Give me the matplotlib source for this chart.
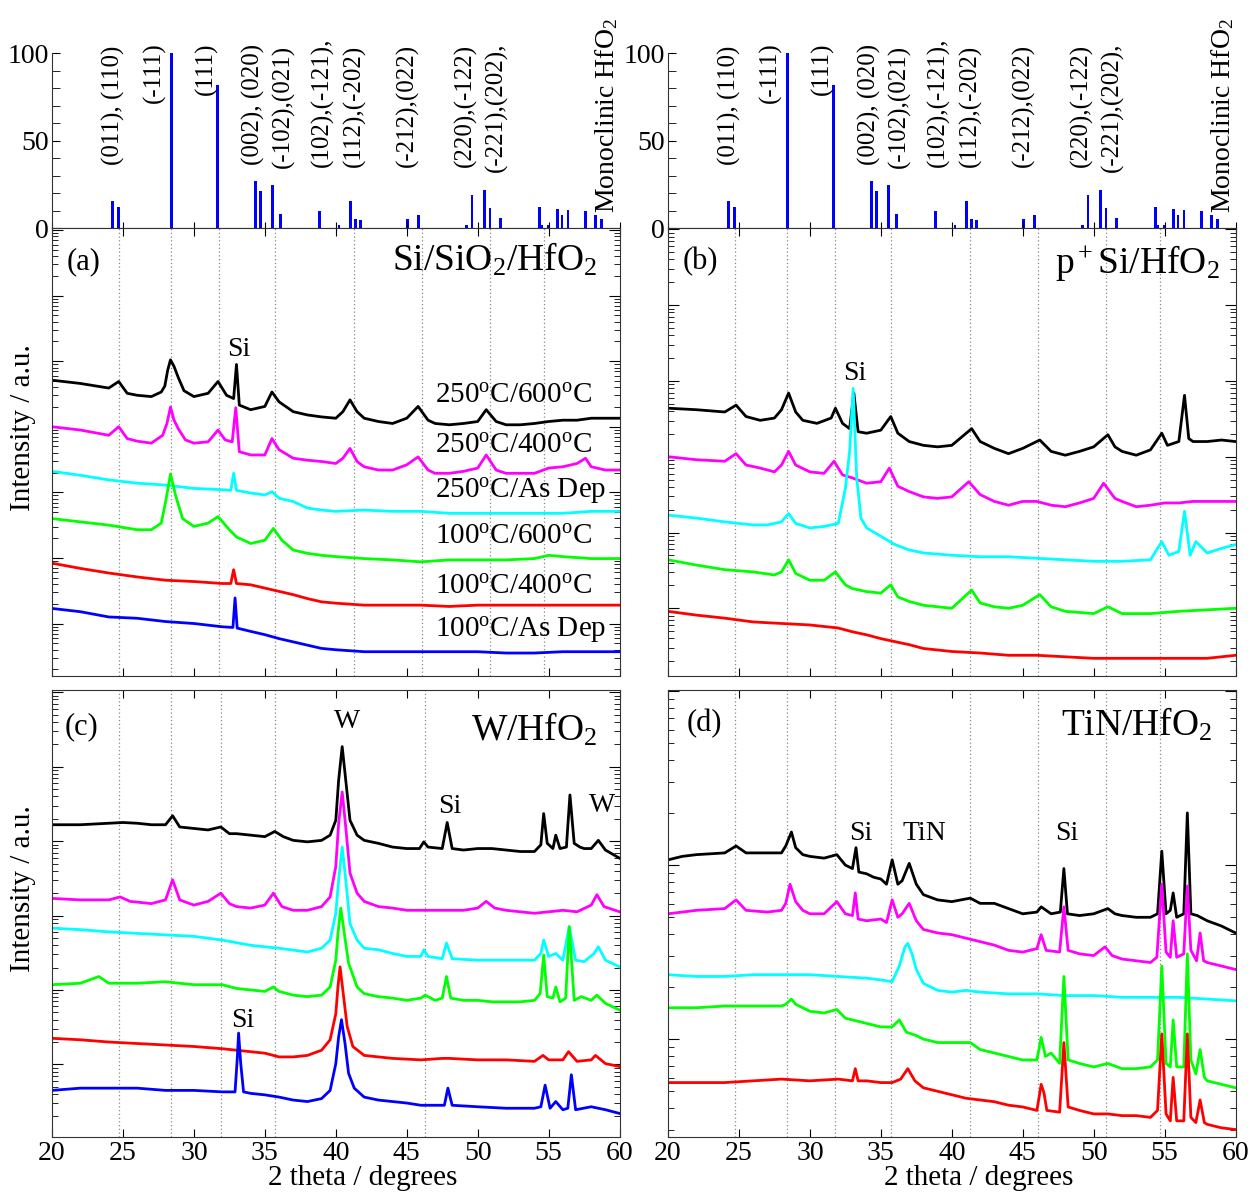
import numpy as np
import matplotlib.pyplot as plt
from matplotlib.ticker import LogLocator, MultipleLocator, NullFormatter

plt.rcParams['font.family'] = 'Liberation Serif'
plt.rcParams['mathtext.fontset'] = 'custom'
plt.rcParams['mathtext.rm'] = 'Liberation Serif'
plt.rcParams['mathtext.it'] = 'Liberation Serif:italic'

# Monoclinic HfO2 reference pattern (relative intensity %)
hfo2_pos = [24.25, 24.67, 28.43, 31.69, 34.34, 34.70, 35.56, 36.13, 38.85, 40.23,
            41.03, 41.38, 41.73, 45.05, 45.80, 49.20, 49.60, 50.49, 50.87, 51.60,
            54.37, 54.53, 55.00, 55.61, 55.94, 56.36, 57.58, 58.33, 58.71]
hfo2_int = [15.6, 12.2, 100, 82, 26.7, 21.3, 24.4, 7.8, 9.7, 1.7,
            15.4, 5.0, 4.4, 5.0, 7.6, 1.9, 18.9, 21.7, 11.2, 5.9,
            12.2, 2.0, 1.7, 10.9, 7.2, 10.3, 9.9, 7.2, 5.1]
hkl_text = ['(011), (110)', '(-111)', '(111)', '(002), (020)', '(-102),(021)',
            '(102),(-121),', '(112),(-202)', '(-212),(022)', '(220),(-122)',
            '(-221),(202),']
hkl_x = [24.32, 27.18, 30.89, 34.18, 36.29, 39.07, 41.34, 45.02, 49.13, 51.31]
hkl_y = [36, 71.4, 76, 36, 34.5, 35, 35, 35, 35, 32]

# dotted guide lines (HfO2 peak positions)
guides = [24.75, 28.4, 31.8, 35.7, 41.3, 46.1, 50.9, 54.7]
guides_c = [24.75, 28.4, 31.9, 35.75, 46.3]

# (a) Si/SiO2/HfO2, log10 intensity
a_250_600 = [(20, 4.71), (22, 4.66), (24, 4.59), (24.7, 4.69), (25.3, 4.51), (26, 4.48),
             (27, 4.46), (27.7, 4.53), (27.95, 4.62), (28.15, 4.86), (28.35, 5.02),
             (28.6, 4.92), (28.9, 4.75), (29.3, 4.55), (30, 4.46), (31, 4.51), (31.7, 4.69),
             (32.3, 4.48), (32.8, 4.43), (33.0, 4.95), (33.2, 4.33), (34, 4.26), (35, 4.31),
             (35.5, 4.53), (36, 4.38), (37, 4.23), (38, 4.18), (39, 4.15), (40, 4.13),
             (40.5, 4.23), (41.0, 4.41), (41.5, 4.23), (42, 4.13), (43, 4.08), (44, 4.05),
             (45, 4.13), (45.8, 4.31), (46.5, 4.10), (47, 4.05), (48, 4.03), (49, 4.05),
             (50, 4.08), (50.6, 4.26), (51.3, 4.08), (52, 4.03), (53, 4.03), (54, 4.05),
             (55, 4.08), (56, 4.10), (57, 4.10), (58, 4.13), (59, 4.13), (60, 4.13)]
a_250_400 = [(20, 4.00), (22, 3.95), (24, 3.87), (24.7, 4.00), (25.3, 3.82), (26, 3.78),
             (27, 3.75), (27.8, 3.87), (28.1, 4.05), (28.35, 4.30), (28.6, 4.10),
             (28.9, 3.97), (29.4, 3.80), (30, 3.75), (31, 3.77), (31.7, 3.95), (32.2, 3.80),
             (32.7, 3.77), (32.95, 4.29), (33.2, 3.62), (34, 3.57), (35, 3.57), (35.5, 3.82),
             (36, 3.65), (37, 3.52), (38, 3.49), (39, 3.47), (40, 3.44), (40.5, 3.52),
             (41.0, 3.67), (41.5, 3.47), (42, 3.39), (43, 3.34), (44, 3.34), (45, 3.42),
             (45.8, 3.54), (46.5, 3.34), (47, 3.29), (48, 3.29), (49, 3.32), (50, 3.37),
             (50.6, 3.57), (51.3, 3.34), (52, 3.29), (53, 3.29), (54, 3.29), (55, 3.37),
             (56, 3.39), (57, 3.44), (57.6, 3.52), (58, 3.39), (59, 3.34), (60, 3.34)]
a_250_dep = [(20, 3.32), (22, 3.26), (24, 3.19), (26, 3.14), (28, 3.11), (30, 3.06),
             (32, 3.04), (32.6, 3.03), (32.8, 3.29), (33.0, 3.03), (34, 2.99), (35, 2.96),
             (35.5, 3.01), (36, 2.91), (37, 2.86), (38, 2.76), (39, 2.73), (40, 2.71),
             (42, 2.73), (44, 2.71), (46, 2.71), (48, 2.68), (50, 2.68), (52, 2.68),
             (54, 2.68), (56, 2.68), (58, 2.71), (60, 2.71)]
a_100_600 = [(20, 2.60), (22, 2.55), (24, 2.50), (26, 2.43), (27, 2.43), (27.7, 2.53),
             (28.0, 2.85), (28.35, 3.28), (28.7, 2.96), (29.2, 2.60), (30, 2.48), (31, 2.53),
             (31.7, 2.63), (32.5, 2.43), (33, 2.32), (34, 2.22), (35, 2.27), (35.6, 2.45),
             (36.2, 2.27), (37, 2.12), (38, 2.07), (39, 2.04), (40, 2.02), (42, 1.99),
             (44, 1.97), (46, 1.94), (48, 1.97), (50, 1.97), (52, 1.97), (54, 1.99),
             (55, 2.04), (56, 2.02), (58, 1.99), (60, 1.99)]
a_100_400 = [(20, 1.92), (22, 1.84), (24, 1.77), (26, 1.71), (28, 1.66), (30, 1.64),
             (32, 1.61), (32.6, 1.61), (32.8, 1.82), (33.0, 1.61), (34, 1.59), (35, 1.54),
             (36, 1.49), (37, 1.44), (38, 1.38), (39, 1.33), (40, 1.31), (42, 1.28),
             (44, 1.28), (46, 1.28), (48, 1.26), (50, 1.28), (52, 1.28), (54, 1.28),
             (56, 1.28), (58, 1.28), (60, 1.28)]
a_100_dep = [(20, 1.23), (22, 1.18), (24, 1.10), (26, 1.08), (28, 1.03), (30, 1.00),
             (32, 0.95), (32.75, 0.94), (32.9, 1.39), (33.05, 0.93), (34, 0.88), (35, 0.83),
             (36, 0.77), (37, 0.72), (38, 0.67), (39, 0.62), (40, 0.60), (42, 0.57),
             (44, 0.57), (46, 0.57), (48, 0.57), (50, 0.57), (52, 0.55), (54, 0.55),
             (56, 0.57), (58, 0.57), (60, 0.57)]

# (b) p+Si/HfO2
b_250_600 = [(20, 3.64), (22, 3.62), (24, 3.59), (24.8, 3.68), (25.5, 3.53), (26.5, 3.48),
             (27.5, 3.51), (28.0, 3.62), (28.5, 3.84), (29.0, 3.59), (29.5, 3.48),
             (30.5, 3.44), (31.5, 3.51), (31.8, 3.64), (32.3, 3.44), (32.8, 3.37),
             (33.1, 3.84), (33.4, 3.33), (34, 3.31), (35, 3.35), (35.7, 3.53), (36.2, 3.31),
             (37, 3.20), (38, 3.15), (39, 3.13), (40, 3.15), (41.4, 3.37), (42, 3.20),
             (43, 3.11), (44, 3.04), (45, 3.11), (46.2, 3.22), (47, 3.07), (48, 3.02),
             (49, 3.07), (50, 3.13), (51.0, 3.29), (51.5, 3.13), (52, 3.07), (53, 3.02),
             (54, 3.09), (54.8, 3.31), (55.2, 3.15), (56.0, 3.20), (56.4, 3.81),
             (56.7, 3.24), (57, 3.20), (58, 3.20), (59, 3.22), (60, 3.20)]
b_250_400 = [(20, 3.00), (22, 2.96), (24, 2.94), (24.8, 3.04), (25.5, 2.89), (26.5, 2.85),
             (27.5, 2.80), (28.0, 2.89), (28.5, 3.07), (29, 2.89), (30, 2.80), (31, 2.78),
             (31.7, 2.94), (32.3, 2.76), (33, 2.72), (34, 2.65), (35, 2.67), (35.6, 2.85),
             (36.2, 2.61), (37, 2.54), (38, 2.47), (39, 2.45), (40, 2.47), (41.2, 2.67),
             (42, 2.50), (43, 2.41), (44, 2.36), (45, 2.41), (46, 2.41), (47, 2.36),
             (48, 2.34), (49, 2.39), (50, 2.45), (50.7, 2.65), (51.5, 2.45), (52, 2.41),
             (53, 2.34), (54, 2.36), (55, 2.39), (56, 2.39), (57, 2.41), (58, 2.41),
             (59, 2.41), (60, 2.41)]
b_250_dep = [(20, 2.23), (22, 2.19), (24, 2.14), (25, 2.12), (26, 2.10), (27, 2.10),
             (28, 2.14), (28.5, 2.25), (29, 2.12), (30, 2.06), (31, 2.08), (32, 2.12),
             (32.5, 2.58), (32.8, 3.07), (33.05, 3.90), (33.3, 2.72), (33.6, 2.19),
             (34, 2.06), (35, 1.95), (36, 1.84), (37, 1.77), (38, 1.73), (40, 1.70),
             (42, 1.68), (44, 1.68), (46, 1.66), (48, 1.64), (50, 1.62), (52, 1.62),
             (54, 1.64), (54.8, 1.88), (55.3, 1.70), (56, 1.75), (56.4, 2.28), (56.8, 1.70),
             (57.2, 1.88), (58, 1.73), (59, 1.79), (60, 1.84)]
b_100_600 = [(20, 1.64), (22, 1.57), (24, 1.51), (26, 1.48), (27.5, 1.44), (28.0, 1.48),
             (28.5, 1.64), (29, 1.46), (30, 1.37), (31, 1.37), (31.8, 1.48), (32.5, 1.31),
             (33, 1.26), (34, 1.22), (35, 1.20), (35.7, 1.31), (36.2, 1.15), (37, 1.09),
             (38, 1.04), (40, 1.00), (41.4, 1.24), (42, 1.07), (43, 1.02), (44, 1.00),
             (45, 1.04), (46.2, 1.18), (47, 1.02), (48, 0.96), (50, 0.93), (51, 1.02),
             (52, 0.93), (54, 0.93), (56, 0.96), (58, 0.98), (60, 1.00)]
b_100_400 = [(20, 0.96), (22, 0.91), (24, 0.87), (26, 0.82), (28, 0.80), (30, 0.78),
             (32, 0.74), (33, 0.69), (34, 0.65), (35, 0.60), (36, 0.56), (37, 0.52),
             (38, 0.47), (40, 0.43), (42, 0.41), (44, 0.38), (46, 0.38), (48, 0.36),
             (50, 0.34), (52, 0.34), (54, 0.34), (56, 0.34), (58, 0.34), (60, 0.38)]

# (c) W/HfO2
c_250_600 = [(20, 4.22), (22, 4.22), (24, 4.24), (25, 4.25), (26, 4.24), (27, 4.22),
             (28, 4.22), (28.5, 4.34), (29, 4.19), (30, 4.17), (31, 4.15), (31.9, 4.19),
             (32.5, 4.10), (33, 4.10), (34, 4.08), (35, 4.06), (35.7, 4.13), (36.3, 4.06),
             (37, 4.01), (38, 3.99), (39, 4.01), (39.6, 4.08), (40.0, 4.28), (40.2, 4.82),
             (40.45, 5.27), (40.7, 4.82), (41.0, 4.28), (41.5, 4.08), (42, 4.01), (43, 3.97),
             (44, 3.92), (45, 3.90), (45.9, 3.90), (46.2, 3.99), (46.5, 3.92), (47.5, 3.90),
             (47.85, 4.25), (48.2, 3.90), (49, 3.88), (50, 3.90), (51, 3.90), (52, 3.88),
             (53, 3.86), (54, 3.86), (54.45, 3.95), (54.65, 4.37), (54.9, 3.97), (55.3, 3.90),
             (55.5, 4.08), (55.8, 3.90), (56.25, 3.92), (56.5, 4.62), (56.8, 3.97),
             (57.2, 3.92), (57.5, 3.90), (58, 3.90), (58.5, 4.01), (59, 3.88), (60, 3.77)]
c_250_400 = [(20, 3.23), (22, 3.21), (24, 3.21), (24.8, 3.25), (25.5, 3.19), (27, 3.16),
             (28, 3.21), (28.5, 3.48), (29, 3.21), (30, 3.14), (31, 3.19), (31.9, 3.30),
             (32.5, 3.16), (33, 3.12), (34, 3.10), (35, 3.14), (35.6, 3.30), (36.2, 3.12),
             (37, 3.07), (38, 3.07), (39, 3.12), (39.6, 3.25), (40.0, 3.66), (40.2, 4.24),
             (40.45, 4.66), (40.7, 4.19), (41.0, 3.57), (41.5, 3.30), (42, 3.19), (43, 3.12),
             (44, 3.10), (45, 3.07), (47, 3.07), (49, 3.07), (50, 3.10), (50.6, 3.19),
             (51.2, 3.10), (52, 3.07), (53, 3.05), (54, 3.03), (55, 3.05), (56, 3.07),
             (57, 3.05), (58, 3.14), (58.4, 3.28), (58.9, 3.12), (60, 3.05)]
c_250_dep = [(20, 2.83), (22, 2.81), (24, 2.78), (26, 2.76), (28, 2.74), (30, 2.72),
             (32, 2.67), (34, 2.60), (36, 2.56), (38, 2.51), (39, 2.56), (39.6, 2.67),
             (40.0, 3.03), (40.2, 3.48), (40.45, 3.92), (40.7, 3.48), (41.0, 2.89),
             (41.5, 2.67), (42, 2.56), (43, 2.54), (44, 2.49), (45, 2.45), (46, 2.45),
             (46.2, 2.54), (46.5, 2.45), (47.5, 2.42), (47.8, 2.63), (48.2, 2.42), (50, 2.40),
             (52, 2.40), (54, 2.40), (54.45, 2.49), (54.65, 2.67), (55, 2.45), (55.5, 2.49),
             (56, 2.40), (56.45, 2.85), (56.9, 2.40), (57.5, 2.38), (58.2, 2.49),
             (58.5, 2.58), (59, 2.40), (60, 2.31)]
c_100_600 = [(20, 2.07), (22, 2.09), (23.3, 2.18), (24, 2.09), (26, 2.09), (28, 2.11),
             (30, 2.07), (32, 2.07), (33, 2.02), (34, 2.00), (35, 1.98), (35.6, 2.04),
             (36, 1.98), (37, 1.93), (38, 1.91), (39, 1.93), (39.6, 2.04), (40.0, 2.40),
             (40.15, 2.76), (40.35, 3.10), (40.6, 2.76), (40.9, 2.36), (41.5, 2.04),
             (42, 1.95), (43, 1.91), (44, 1.89), (45, 1.86), (46, 1.89), (46.3, 1.93),
             (47, 1.86), (47.5, 1.89), (47.8, 2.18), (48.1, 1.89), (49, 1.86), (50, 1.86),
             (51, 1.84), (53, 1.84), (54, 1.86), (54.4, 1.95), (54.65, 2.47), (54.9, 1.91),
             (55.3, 1.89), (55.5, 2.04), (55.8, 1.84), (56.2, 1.89), (56.45, 2.85),
             (56.8, 1.86), (57.3, 1.91), (58, 1.86), (58.4, 1.93), (59, 1.82), (60, 1.73)]
c_100_400 = [(20, 1.35), (22, 1.33), (24, 1.30), (26, 1.28), (28, 1.26), (30, 1.24),
             (32, 1.21), (34, 1.17), (35, 1.15), (36, 1.10), (37, 1.10), (38, 1.12),
             (39, 1.19), (39.6, 1.33), (40.0, 1.68), (40.15, 2.04), (40.3, 2.31),
             (40.55, 1.91), (40.8, 1.51), (41.2, 1.24), (42, 1.12), (43, 1.10), (44, 1.08),
             (46, 1.06), (47.5, 1.08), (48, 1.08), (50, 1.06), (52, 1.06), (54, 1.04),
             (54.6, 1.12), (55, 1.06), (56, 1.06), (56.4, 1.17), (57, 1.04), (58, 1.06),
             (58.3, 1.12), (59, 1.01), (60, 0.97)]
c_100_dep = [(20, 0.65), (22, 0.68), (24, 0.68), (26, 0.68), (28, 0.65), (30, 0.65),
             (32, 0.63), (32.9, 0.63), (33.05, 1.06), (33.15, 1.42), (33.3, 1.01),
             (33.5, 0.63), (34, 0.61), (35, 0.59), (36, 0.56), (37, 0.52), (38, 0.50),
             (39, 0.54), (39.6, 0.65), (40.0, 1.01), (40.2, 1.37), (40.4, 1.60),
             (40.65, 1.28), (40.9, 0.88), (41.3, 0.68), (42, 0.56), (43, 0.52), (44, 0.50),
             (45, 0.48), (46, 0.45), (47.65, 0.45), (47.9, 0.68), (48.2, 0.45), (50, 0.43),
             (52, 0.41), (54, 0.41), (54.45, 0.43), (54.75, 0.72), (55.1, 0.41),
             (55.5, 0.50), (56, 0.39), (56.35, 0.41), (56.6, 0.86), (56.9, 0.39), (58, 0.43),
             (59, 0.39), (60, 0.34)]

# (d) TiN/HfO2
d_250_600 = [(20, 2.03), (21, 2.05), (22, 2.06), (24, 2.07), (24.8, 2.11), (25.5, 2.07),
             (28, 2.07), (28.3, 2.11), (28.7, 2.19), (29, 2.10), (29.5, 2.06), (30, 2.05),
             (31, 2.04), (31.9, 2.06), (32.5, 2.00), (33.0, 1.98), (33.25, 2.10),
             (33.45, 1.96), (34, 1.95), (34.5, 1.93), (35, 1.92), (35.4, 1.89), (35.8, 2.03),
             (36.2, 1.89), (36.5, 1.91), (37.0, 2.01), (37.5, 1.89), (38, 1.83), (39, 1.80),
             (40, 1.79), (41.3, 1.81), (42, 1.78), (43, 1.78), (44, 1.75), (45, 1.72),
             (46, 1.73), (46.3, 1.76), (47, 1.72), (47.65, 1.73), (47.9, 1.98), (48.15, 1.72),
             (49, 1.71), (50, 1.72), (51, 1.75), (51.5, 1.72), (52, 1.71), (53, 1.70),
             (54, 1.70), (54.5, 1.72), (54.8, 2.08), (55.1, 1.72), (55.4, 1.74), (55.6, 1.84),
             (55.85, 1.70), (56.35, 1.72), (56.6, 2.30), (56.85, 1.72), (57.3, 1.71),
             (58, 1.68), (59, 1.65), (60, 1.61)]
d_250_400 = [(20, 1.72), (22, 1.74), (24, 1.75), (24.8, 1.80), (25.5, 1.74), (27, 1.73),
             (28, 1.74), (28.3, 1.78), (28.6, 1.89), (29, 1.79), (29.5, 1.74), (30, 1.72),
             (31, 1.72), (31.9, 1.79), (32.5, 1.72), (33.0, 1.71), (33.2, 1.84), (33.4, 1.69),
             (34, 1.68), (35, 1.69), (35.4, 1.67), (35.8, 1.80), (36.2, 1.70), (36.5, 1.72),
             (37.0, 1.78), (37.5, 1.68), (38, 1.63), (39, 1.61), (40, 1.60), (41, 1.58),
             (42, 1.56), (43, 1.54), (44, 1.51), (45, 1.50), (46, 1.52), (46.3, 1.60),
             (46.65, 1.51), (47.6, 1.50), (47.9, 1.76), (48.2, 1.51), (49, 1.49), (50, 1.48),
             (50.8, 1.53), (51.3, 1.48), (52, 1.46), (53, 1.45), (54, 1.44), (54.45, 1.47),
             (54.8, 1.89), (55.1, 1.50), (55.4, 1.47), (55.6, 1.68), (55.85, 1.47),
             (56.35, 1.49), (56.6, 1.88), (56.85, 1.51), (57.25, 1.45), (57.5, 1.61),
             (57.75, 1.45), (58, 1.44), (59, 1.42), (60, 1.40)]
d_250_dep = [(20, 1.37), (22, 1.36), (24, 1.36), (26, 1.37), (28, 1.37), (30, 1.37),
             (32, 1.36), (34, 1.35), (35, 1.34), (35.8, 1.33), (36.3, 1.42), (36.7, 1.53),
             (36.9, 1.55), (37.2, 1.49), (37.5, 1.40), (38, 1.32), (39, 1.28), (40, 1.27),
             (41, 1.28), (42, 1.27), (44, 1.26), (46, 1.26), (48, 1.25), (50, 1.25),
             (52, 1.24), (54, 1.24), (56, 1.24), (58, 1.23), (60, 1.22)]
d_100_600 = [(20, 1.18), (22, 1.18), (24, 1.19), (26, 1.19), (28, 1.19), (28.3, 1.20),
             (28.7, 1.23), (29, 1.20), (30, 1.16), (31, 1.15), (31.9, 1.17), (32.5, 1.12),
             (33, 1.11), (34, 1.09), (35, 1.07), (35.8, 1.07), (36.3, 1.11), (36.8, 1.04),
             (37.5, 1.02), (38, 1.00), (39, 0.98), (40, 0.98), (41.3, 0.98), (42, 0.94),
             (43, 0.92), (44, 0.90), (45, 0.88), (46, 0.88), (46.3, 1.01), (46.6, 0.90),
             (47, 0.92), (47.6, 0.86), (47.9, 1.36), (48.2, 0.88), (49, 0.86), (50, 0.84),
             (51, 0.86), (52, 0.83), (53, 0.83), (54, 0.84), (54.5, 0.88), (54.8, 1.42),
             (55.1, 0.86), (55.4, 0.84), (55.6, 1.11), (55.85, 0.84), (56.35, 0.84),
             (56.6, 1.49), (56.85, 0.88), (57.2, 0.80), (57.5, 0.94), (57.8, 0.78),
             (58, 0.76), (59, 0.74), (60, 0.72)]
d_100_400 = [(20, 0.75), (22, 0.75), (24, 0.75), (26, 0.76), (28, 0.77), (30, 0.76),
             (32, 0.77), (33.0, 0.76), (33.2, 0.83), (33.4, 0.76), (34, 0.76), (35, 0.75),
             (35.8, 0.75), (36.4, 0.77), (36.9, 0.83), (37.4, 0.76), (38, 0.72), (39, 0.70),
             (40, 0.68), (41, 0.66), (42, 0.65), (43, 0.64), (44, 0.62), (45, 0.61),
             (46, 0.59), (46.3, 0.74), (46.5, 0.69), (46.7, 0.59), (47.6, 0.58), (47.9, 0.98),
             (48.2, 0.61), (49, 0.59), (50, 0.57), (51, 0.57), (52, 0.56), (53, 0.56),
             (54, 0.55), (54.5, 0.59), (54.8, 1.03), (55.1, 0.57), (55.4, 0.53), (55.6, 0.78),
             (55.85, 0.53), (56.35, 0.53), (56.6, 1.03), (56.85, 0.55), (57.2, 0.52),
             (57.5, 0.65), (57.8, 0.52), (58, 0.51), (59, 0.49), (60, 0.48)]

colors = ['#000000', '#ff00ff', '#00ffff', '#00ff00', '#ff0000', '#0000ff']
a_curves = [a_250_600, a_250_400, a_250_dep, a_100_600, a_100_400, a_100_dep]
b_curves = [b_250_600, b_250_400, b_250_dep, b_100_600, b_100_400]
c_curves = [c_250_600, c_250_400, c_250_dep, c_100_600, c_100_400, c_100_dep]
d_curves = [d_250_600, d_250_400, d_250_dep, d_100_600, d_100_400]

a_labels = ['250$^{\\rm o}$C/600$^{\\rm o}$C', '250$^{\\rm o}$C/400$^{\\rm o}$C',
            '250$^{\\rm o}$C/As Dep', '100$^{\\rm o}$C/600$^{\\rm o}$C',
            '100$^{\\rm o}$C/400$^{\\rm o}$C', '100$^{\\rm o}$C/As Dep']
a_label_y = [4.36, 3.60, 2.92, 2.21, 1.46, 0.80]

fig = plt.figure(figsize=(12.53, 11.92), dpi=100)
L1, L2, W = 0.0415, 0.5331, 0.4530


def sticks(rect):
    ax = fig.add_axes(rect)
    ax.bar(hfo2_pos, hfo2_int, width=0.2, color='#0000ff')
    ax.set_xlim(20, 60)
    ax.set_ylim(0, 100)
    ax.spines['top'].set_visible(False)
    ax.spines['right'].set_visible(False)
    for s in ['left', 'bottom']:
        ax.spines[s].set_color('#333333')
    ax.set_yticks([0, 50, 100])
    ax.yaxis.set_minor_locator(MultipleLocator(10))
    ax.xaxis.set_major_locator(MultipleLocator(5))
    ax.tick_params(axis='y', which='both', direction='in', length=6, labelsize=20, pad=2)
    ax.tick_params(axis='x', direction='in', length=4, labelbottom=False)
    for t, x, y in zip(hkl_text, hkl_x, hkl_y):
        ax.text(x, y, t, rotation=90, ha='center', va='bottom', fontsize=18)
    ax.text(59.1, 8.6, 'Monoclinic HfO$_2$', rotation=90, ha='center', va='bottom',
            fontsize=20)
    return ax


def xrd(rect, curves, ylim, lines, bottom):
    ax = fig.add_axes(rect)
    for x in lines:
        ax.axvline(x, color='#888888', ls=(0, (1, 2)), lw=0.9, zorder=0)
    for data, col in zip(curves, colors):
        xy = np.array(data)
        ax.plot(xy[:, 0], 10 ** xy[:, 1], color=col, lw=2.0)
    ax.set_yscale('log')
    ax.set_xlim(20, 60)
    ax.set_ylim(10 ** ylim[0], 10 ** ylim[1])
    ax.yaxis.set_major_locator(LogLocator(base=10, numticks=50))
    ax.yaxis.set_minor_locator(LogLocator(base=10, subs=np.arange(2, 10), numticks=50))
    ax.yaxis.set_minor_formatter(NullFormatter())
    ax.set_yticklabels([])
    ax.xaxis.set_major_locator(MultipleLocator(5))
    for s in ax.spines.values():
        s.set_color('#333333')
    ax.tick_params(axis='y', which='major', direction='in', length=8, left=True, right=True,
                   labelleft=False)
    ax.tick_params(axis='y', which='minor', direction='in', length=4, left=True, right=True)
    ax.tick_params(axis='x', direction='in', length=6, top=True, bottom=True,
                   labelbottom=bottom, labelsize=20, pad=3)
    if bottom:
        ax.text(0.548, -0.1074, '2 theta / degrees', transform=ax.transAxes,
                ha='center', va='baseline', fontsize=21)
    return ax


sticks([L1, 0.8087, W, 0.1468])
sticks([L2, 0.8087, W, 0.1468])

ax_a = xrd([L1, 0.4329, W, 0.3758], a_curves, (0.2, 7.03), guides, False)
ax_b = xrd([L2, 0.4329, W, 0.3758], b_curves, (0.107, 6.017), guides, False)
ax_c = xrd([L1, 0.0461, W, 0.3750], c_curves, (0.023, 6.03), guides_c, True)
ax_d = xrd([L2, 0.0461, W, 0.3750], d_curves, (0.437, 3.006), guides, True)

for ax in (ax_a, ax_c):
    ax.text(-0.051, 0.555, 'Intensity / a.u.', transform=ax.transAxes, rotation=90,
            ha='center', va='center', fontsize=21)

# panel tags and titles
ax_a.text(0.026, 0.925, '(a)', transform=ax_a.transAxes, va='center', fontsize=22)
ax_b.text(0.026, 0.925, '(b)', transform=ax_b.transAxes, va='center', fontsize=22)
ax_c.text(0.023, 0.918, '(c)', transform=ax_c.transAxes, va='center', fontsize=22)
ax_d.text(0.033, 0.924, '(d)', transform=ax_d.transAxes, va='center', fontsize=22)
ax_a.text(0.96, 0.906, 'Si/SiO$_2$/HfO$_2$', transform=ax_a.transAxes, ha='right',
          va='baseline', fontsize=27)
ax_b.text(0.972, 0.90, 'p$^+$Si/HfO$_2$', transform=ax_b.transAxes, ha='right',
          va='baseline', fontsize=27)
ax_c.text(0.961, 0.888, 'W/HfO$_2$', transform=ax_c.transAxes, ha='right',
          va='baseline', fontsize=27)
ax_d.text(0.959, 0.899, 'TiN/HfO$_2$', transform=ax_d.transAxes, ha='right',
          va='baseline', fontsize=27)

for t, y in zip(a_labels, a_label_y):
    ax_a.text(47.0, 10 ** y, t, ha='left', va='baseline', fontsize=21)

# peak annotations
ax_a.text(33.2, 10 ** 5.08, 'Si', ha='center', va='baseline', fontsize=20)
ax_b.text(33.15, 10 ** 4.01, 'Si', ha='center', va='baseline', fontsize=20)
ax_c.text(40.8, 10 ** 5.515, 'W', ha='center', va='baseline', fontsize=20)
ax_c.text(48.03, 10 ** 4.373, 'Si', ha='center', va='baseline', fontsize=20)
ax_c.text(58.78, 10 ** 4.395, 'W', ha='center', va='baseline', fontsize=20)
ax_c.text(33.45, 10 ** 1.505, 'Si', ha='center', va='baseline', fontsize=20)
ax_d.text(33.57, 10 ** 2.147, 'Si', ha='center', va='baseline', fontsize=20)
ax_d.text(38.07, 10 ** 2.147, 'TiN', ha='center', va='baseline', fontsize=20)
ax_d.text(48.08, 10 ** 2.147, 'Si', ha='center', va='baseline', fontsize=20)

fig.savefig('out.png', dpi=100)
